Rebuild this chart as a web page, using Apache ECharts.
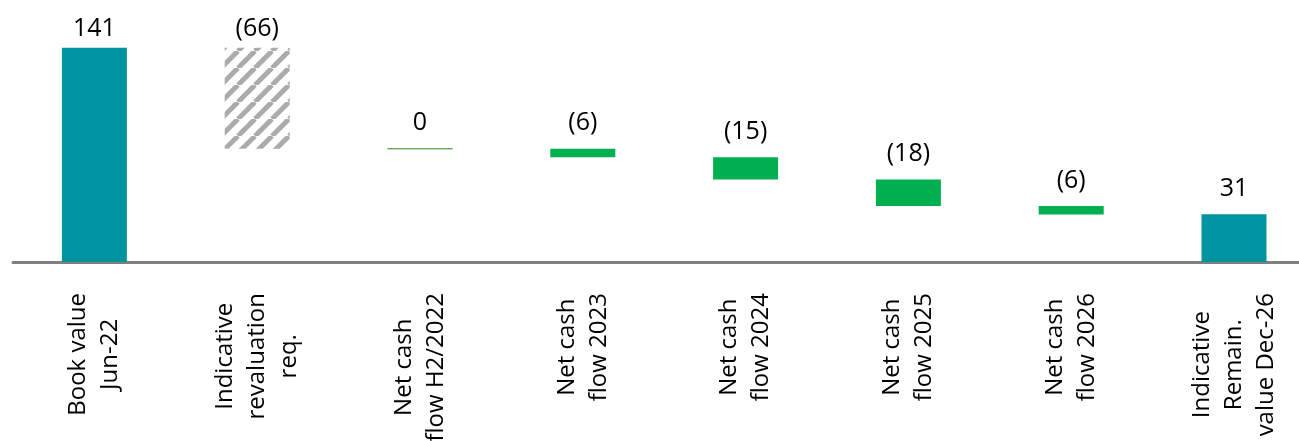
<!DOCTYPE html>
<html>
<head>
<meta charset="utf-8">
<script src="https://cdn.jsdelivr.net/npm/echarts@6/dist/echarts.min.js"></script>
<style>
html,body{margin:0;padding:0;background:#fff;}
#chart{width:1299px;height:441px;}
</style>
</head>
<body>
<div id="chart"></div>
<script>
// ---- data ----
const categories = [
  'Book value\nJun-22',
  'Indicative\nrevaluation\nreq.',
  'Net cash\nflow H2/2022',
  'Net cash\nflow 2023',
  'Net cash\nflow 2024',
  'Net cash\nflow 2025',
  'Net cash\nflow 2026',
  'Indicative\nRemain.\nvalue Dec-26'
];
// totals are absolute, the rest are changes
const values = [141, -66.4, 0, -5.6, -14.7, -17.5, -5.5, 31.4];
const kinds = ['total', 'reval', 'flow', 'flow', 'flow', 'flow', 'flow', 'total'];

// ---- build waterfall ----
const TEAL = '#0093A0', GREEN = '#00B050', ZERO = '#5FA04E';
function stripes() {
  const s = 17, c = document.createElement('canvas');
  c.width = s; c.height = s;
  const g = c.getContext('2d');
  g.fillStyle = '#ffffff'; g.fillRect(0, 0, s, s);
  g.strokeStyle = '#ababab'; g.lineWidth = 5;
  for (const o of [-s, 0, s]) { g.beginPath(); g.moveTo(o, s); g.lineTo(o + s, 0); g.stroke(); }
  return c;
}
const pattern = { image: stripes(), repeat: 'repeat' };

const baseData = [], barData = [];
let cum = 0;
values.forEach((v, i) => {
  const k = kinds[i];
  let base, h;
  if (k === 'total') { base = 0; h = v; cum = v; }
  else { base = cum + v; h = -v; cum = cum + v; }
  baseData.push(base);
  let color = k === 'total' ? TEAL : (k === 'reval' ? pattern : GREEN);
  const item = { value: h, itemStyle: { color } };
  if (k === 'flow' && v === 0) item.itemStyle = { color: ZERO, borderColor: ZERO, borderWidth: 1 };
  item.label = { distance: i < 2 ? 6 : 13 };
  barData.push(item);
});

function fmt(v) {
  const r = Math.round(Math.abs(v));
  if (r === 0) return '0';
  return v < 0 ? '(' + r + ')' : String(r);
}

const FONT = 'Open Sans';
const chart = echarts.init(document.getElementById('chart'), null, { renderer: 'canvas' });
chart.setOption({
  animation: false,
  backgroundColor: '#ffffff',
  grid: { left: 13, width: 1302.4, top: 19, height: 243, containLabel: false, outerBoundsMode: 'none' },
  xAxis: {
    type: 'category',
    data: categories,
    axisLine: { show: true, lineStyle: { color: '#808080', width: 3 } },
    axisTick: { show: false },
    axisLabel: {
      interval: 0,
      rotate: 90,
      margin: 31,
      color: '#000',
      fontFamily: FONT,
      fontSize: 24,
      formatter: (v) => v.split('\n').map(s => '{c|' + s + '}').join('\n'),
      rich: { c: { align: 'center', fontFamily: FONT, fontSize: 24, lineHeight: 32, color: '#000' } }
    }
  },
  yAxis: {
    type: 'value', min: 0, max: 160, show: false, splitLine: { show: false }
  },
  series: [
    {
      type: 'bar', stack: 'w', data: baseData, barWidth: 65,
      itemStyle: { color: 'rgba(0,0,0,0)' }, silent: true
    },
    {
      type: 'bar', stack: 'w', data: barData, barWidth: 65,
      label: {
        show: true, position: 'top', color: '#000', fontFamily: FONT, fontSize: 25,
        formatter: (p) => fmt(values[p.dataIndex])
      }
    }
  ]
});
</script>
</body>
</html>
